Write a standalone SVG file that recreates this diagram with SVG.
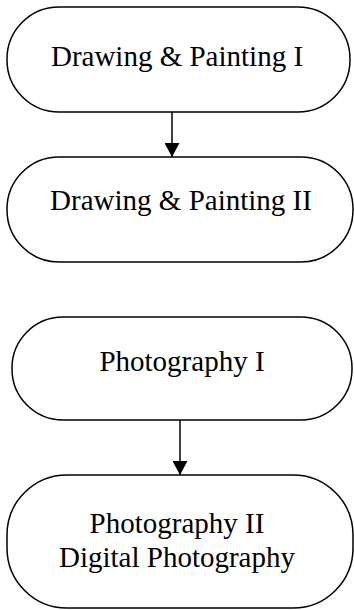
<svg xmlns="http://www.w3.org/2000/svg" width="354" height="610" viewBox="0 0 354 610">
<style>
.n{fill:#fff;stroke:#000;stroke-width:1.5}
.t{font-family:"Liberation Serif","Times New Roman",serif;font-size:29px;fill:#000;text-anchor:middle}
.c{stroke:#000;stroke-width:1.5;fill:none}
</style>
<defs>
<marker id="ah" markerWidth="15" markerHeight="15" viewBox="0 0 14 15" refX="14" refY="7.5" orient="auto" markerUnits="userSpaceOnUse">
<path d="M0,0 L14,7.5 L0,15 Z" fill="#000"/>
</marker>
</defs>
<g id="n1"><rect class="n" x="7" y="7" width="343" height="105" rx="52" ry="52"/><text class="t" x="177" y="66">Drawing &amp; Painting I</text></g>
<g id="n2"><rect class="n" x="7" y="157" width="346" height="105" rx="52" ry="52"/><text class="t" x="181" y="210">Drawing &amp; Painting II</text></g>
<g id="n3"><rect class="n" x="12" y="317" width="340" height="103" rx="51" ry="51"/><text class="t" x="182" y="371">Photography I</text></g>
<g id="n4"><rect class="n" x="7" y="475" width="346" height="133" rx="60" ry="60"/><text class="t" x="177" y="533">Photography II</text><text class="t" x="177" y="567">Digital Photography</text></g>
<g id="connectors">
<line class="c" x1="172" y1="112" x2="172" y2="157" marker-end="url(#ah)"/>
<line class="c" x1="180" y1="420" x2="180" y2="475" marker-end="url(#ah)"/>
</g>
</svg>
